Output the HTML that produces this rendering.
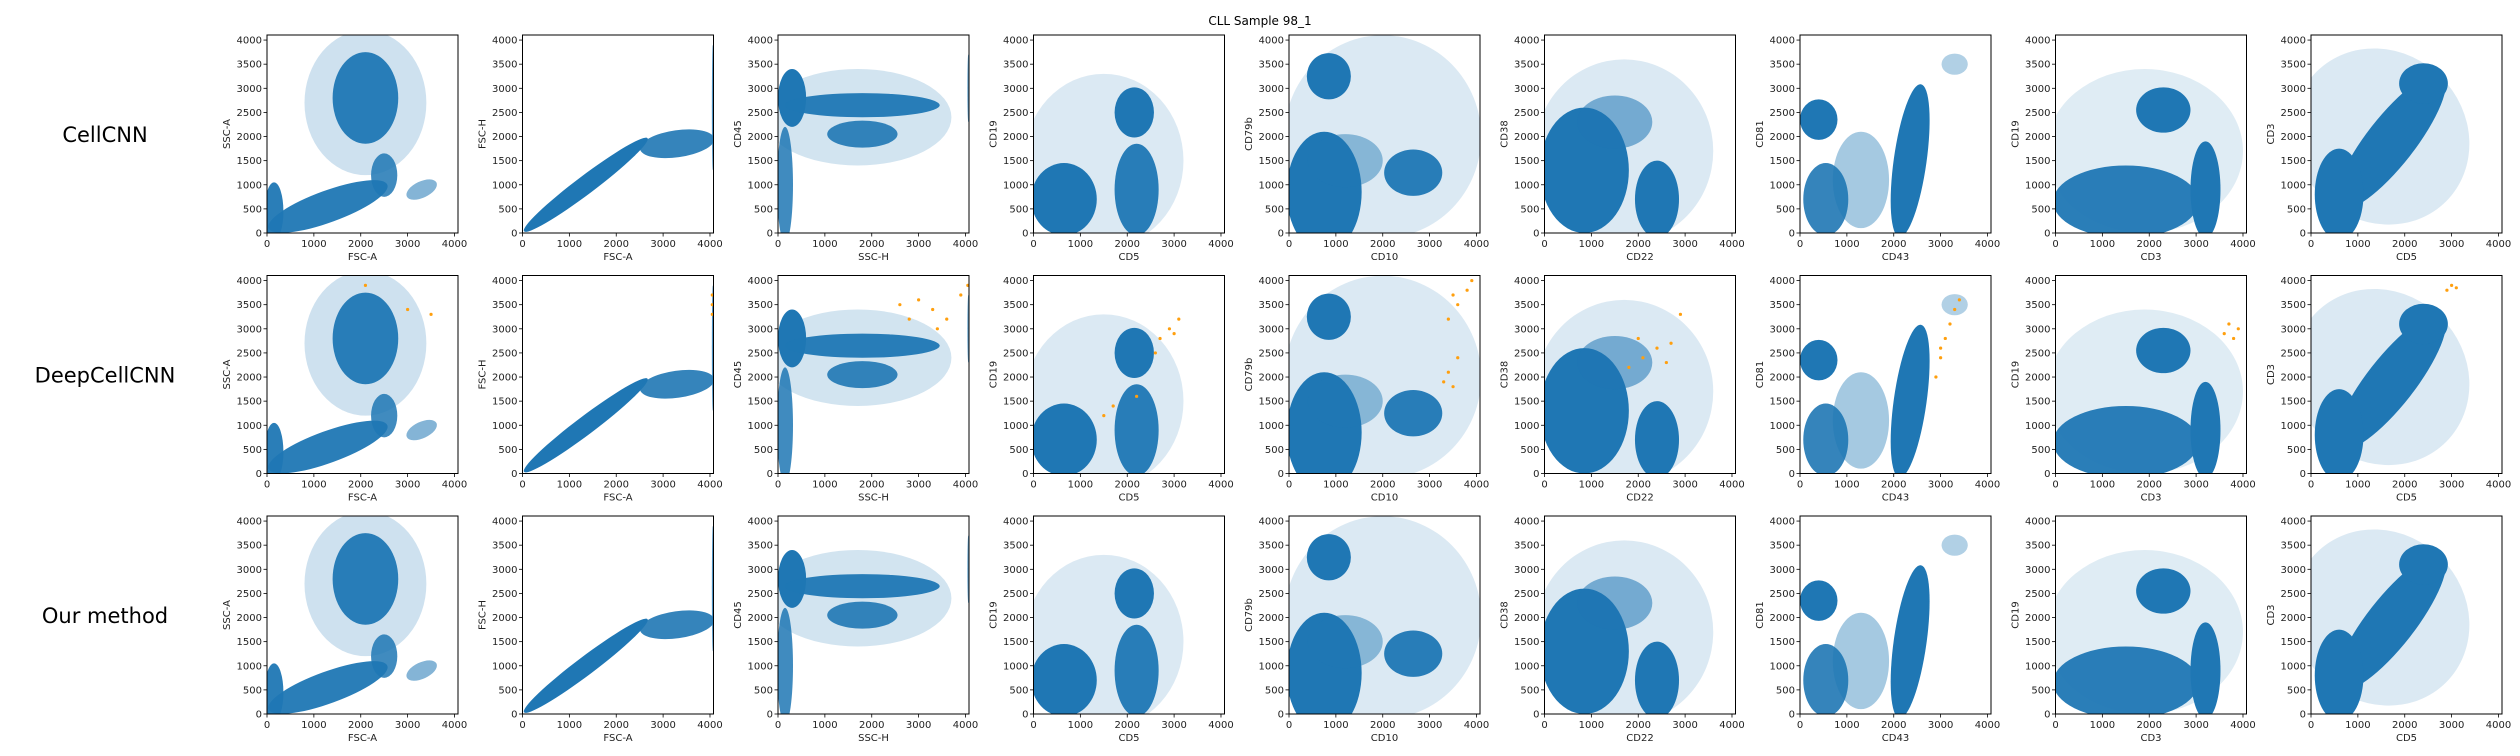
<!DOCTYPE html>
<html><head><meta charset="utf-8">
<style>
html,body{margin:0;padding:0;background:#fff;}
svg{display:block;font-family:"DejaVu Sans","Liberation Sans",sans-serif;}
</style></head>
<body>
<svg id="fig" width="2520" height="756" viewBox="0 0 2520 756" xmlns="http://www.w3.org/2000/svg">
<rect width="2520" height="756" fill="#fff"/>
<text x="1260" y="25" font-size="12" text-anchor="middle" fill="#000">CLL Sample 98_1</text>
</svg>
<script>
// ---- data ----
const rowNames = ["CellCNN", "DeepCellCNN", "Our method"];
const xLabels = ["FSC-A","FSC-A","SSC-H","CD5","CD10","CD22","CD43","CD3","CD5"];
const yLabels = ["SSC-A","FSC-H","CD45","CD19","CD79b","CD38","CD81","CD19","CD3"];
const xTicks = [0,1000,2000,3000,4000];
const yTicks = [0,500,1000,1500,2000,2500,3000,3500,4000];
// cluster blobs per panel: [cx, cy, rx, ry, angleDeg, opacity] in data units
const clusters1 = [[2100,2700,1300,1500,0,0.22],[2100,2800,700,950,0,0.95],[1300,550,1350,330,-20,0.95],[150,450,200,600,0,0.95],[2500,1200,280,450,0,0.85],[3300,900,350,170,-25,0.55]];
const clusters2 = [[1350,1000,1650,190,-37,1],[3300,1850,800,280,-8,0.9],[4060,2600,20,1300,0,0.8]];
const clusters3 = [[1700,2400,2000,1000,0,0.2],[300,2800,300,600,0,1],[1800,2650,1650,250,0,0.95],[1800,2050,750,280,0,0.9],[150,1000,170,1200,0,0.85],[4060,3000,20,700,0,0.7]];
const clusters4 = [[1500,1500,1700,1800,0,0.16],[650,700,700,750,0,1],[2150,2500,420,520,0,1],[2200,900,470,950,0,0.95]];
const clusters5 = [[2000,2000,2100,2100,0,0.16],[850,3250,470,480,0,1],[750,850,800,1250,0,1],[1200,1500,800,550,0,0.45],[2650,1250,620,480,0,0.95]];
const clusters6 = [[1700,1700,1900,1900,0,0.16],[850,1300,950,1300,0,1],[1500,2300,800,550,0,0.55],[2400,700,470,800,0,1]];
const clusters7 = [[400,2350,400,420,0,1],[2350,1500,350,1600,8,1],[550,700,480,750,0,0.9],[1300,1100,600,1000,0,0.4],[3300,3500,280,220,0,0.35]];
const clusters8 = [[1900,1700,2100,1700,0,0.14],[2300,2550,580,470,0,1],[1500,650,1550,750,0,0.95],[3200,900,320,1000,0,1]];
const clusters9 = [[1500,2000,1800,1900,-45,0.16],[1700,1900,1800,500,-52,1],[600,800,520,950,0,1],[2400,3100,520,420,0,1]];
const panelClusters = [clusters1,clusters2,clusters3,clusters4,clusters5,clusters6,clusters7,clusters8,clusters9];
// orange (highlighted) cells in DeepCellCNN row: [x, y]
const orange1 = [[2100,3900],[3500,3300],[3000,3400]];
const orange2 = [[4050,3700],[4050,3500],[4050,3300]];
const orange3 = [[2600,3500],[3000,3600],[3300,3400],[3600,3200],[3900,3700],[4050,3900],[2800,3200],[3400,3000]];
const orange4 = [[2700,2800],[2900,3000],[3100,3200],[2600,2500],[3000,2900],[1500,1200],[1700,1400],[2200,1600]];
const orange5 = [[3300,1900],[3400,2100],[3500,1800],[3600,2400],[3400,3200],[3600,3500],[3800,3800],[3900,4000],[3500,3700]];
const orange6 = [[1800,2200],[2100,2400],[2400,2600],[2700,2700],[2000,2800],[2600,2300],[2900,3300]];
const orange7 = [[2900,2000],[3000,2400],[3100,2800],[3200,3100],[3300,3400],[3400,3600],[3000,2600]];
const orange8 = [[3600,2900],[3700,3100],[3800,2800],[3900,3000]];
const orange9 = [[2900,3800],[3000,3900],[3100,3850]];
const panelOrange = [orange1,orange2,orange3,orange4,orange5,orange6,orange7,orange8,orange9];

// ---- layout ----
const NS = "http://www.w3.org/2000/svg";
const svg = document.getElementById("fig");
const L0 = 267, COLSTEP = 255.5, W = 191, T0 = 35, ROWSTEP = 240.5, H = 198;
const XMAX = 4075, YMAX = 4105;
function mk(tag, attrs, parent){ const e = document.createElementNS(NS, tag); for (const k in attrs) e.setAttribute(k, attrs[k]); (parent||svg).appendChild(e); return e; }

rowNames.forEach((nm, r) => {
  const t = mk("text", {x:105, y:T0 + r*ROWSTEP + H/2 + 8, "font-size":21, "text-anchor":"middle", fill:"#000"});
  
  
  t.textContent = nm;
});

for (let r = 0; r < 3; r++) {
  for (let c = 0; c < 9; c++) {
    const left = L0 + c*COLSTEP, top = T0 + r*ROWSTEP;
    const sx = v => left + v / XMAX * W;
    const sy = v => top + H - v / YMAX * H;
    const g = mk("g", {});
    
    
    const clipId = "clip" + r + "_" + c;
    const cp = mk("clipPath", {id: clipId}, g);
    mk("rect", {x:left, y:top, width:W, height:H}, cp);
    const pts = mk("g", {"clip-path":"url(#" + clipId + ")"}, g);
    panelClusters[c].forEach(cl => {
      const cx = sx(cl[0]), cy = sy(cl[1]);
      const rx = cl[2] / XMAX * W, ry = cl[3] / YMAX * H;
      const e = mk("ellipse", {cx:cx, cy:cy, rx:rx, ry:ry, fill:"#1f77b4", "fill-opacity":cl[5], transform:"rotate(" + cl[4] + " " + cx + " " + cy + ")"}, pts);
      
      
    });
    if (r === 1) {
      panelOrange[c].forEach(p => {
        const d = mk("circle", {cx:sx(p[0]), cy:sy(p[1]), r:1.6, fill:"#ff9f0e"}, pts);
        
        
      });
    }
    const frame = mk("rect", {x:left, y:top, width:W, height:H, fill:"none", stroke:"#000", "stroke-width":1}, g);
    
    
    xTicks.forEach(v => {
      const x = sx(v);
      mk("line", {x1:x, y1:top+H, x2:x, y2:top+H+3.5, stroke:"#000", "stroke-width":0.8}, g);
      const t = mk("text", {x:x, y:top+H+14, "font-size":10, "text-anchor":"middle", fill:"#222"}, g);
      
      
      t.textContent = v;
    });
    yTicks.forEach(v => {
      const y = sy(v);
      mk("line", {x1:left-3.5, y1:y, x2:left, y2:y, stroke:"#000", "stroke-width":0.8}, g);
      const t = mk("text", {x:left-5, y:y+3.5, "font-size":10, "text-anchor":"end", fill:"#222"}, g);
      
      
      t.textContent = v;
    });
    const xl = mk("text", {x:left+W/2, y:top+H+27, "font-size":10, "text-anchor":"middle", fill:"#222"}, g);
    
    
    xl.textContent = xLabels[c];
    const yx = left - 37, yy = top + H/2;
    const yl = mk("text", {x:yx, y:yy, "font-size":10, "text-anchor":"middle", fill:"#222", transform:"rotate(-90 " + yx + " " + yy + ")"}, g);
    
    
    yl.textContent = yLabels[c];
  }
}
</script>
</body></html>
